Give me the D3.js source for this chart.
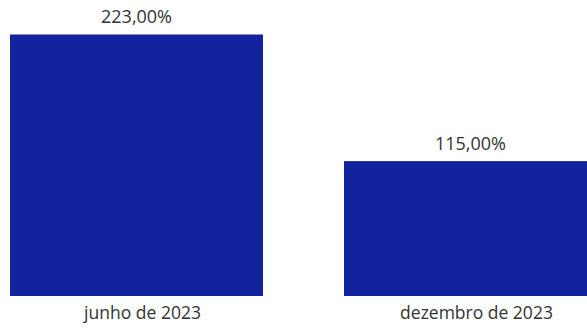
<!DOCTYPE html>
<html>
<head>
<meta charset="utf-8">
<script src="https://cdn.jsdelivr.net/npm/d3@7"></script>
<style>
  html, body { margin: 0; padding: 0; background: #fff; overflow: hidden; }
  svg { display: block; font-family: "Segoe UI", "Open Sans", sans-serif; }
</style>
</head>
<body>
<svg id="chart"></svg>
<script>
const width = 587;
const height = 328;

// Données
const categories = ["junho de 2023", "dezembro de 2023"];
const values = [223, 115];
const valueLabels = ["223,00%", "115,00%"];

const svg = d3.select("#chart")
  .attr("width", width)
  .attr("height", height);

// Échelles
const x = d3.scaleBand()
  .domain(categories)
  .range([10, 597])
  .paddingInner(0.2425)
  .paddingOuter(0);

const y = d3.scaleLinear()
  .domain([0, d3.max(values)])
  .range([296, 34.5]);

const data = categories.map((c, i) => ({ cat: c, value: values[i], label: valueLabels[i] }));

// Barres
svg.selectAll("rect.bar")
  .data(data)
  .enter()
  .append("rect")
  .attr("class", "bar")
  .attr("x", d => x(d.cat))
  .attr("y", d => y(d.value))
  .attr("width", x.bandwidth())
  .attr("height", d => y(0) - y(d.value))
  .attr("fill", "#12239e");

// Étiquettes de valeur
svg.selectAll("text.val")
  .data(data)
  .enter()
  .append("text")
  .attr("class", "val")
  .attr("x", d => x(d.cat) + x.bandwidth() / 2)
  .attr("y", d => y(d.value) - 11.5)
  .attr("text-anchor", "middle")
  .attr("fill", "#333")
  .style("font-size", "18px")
  .text(d => d.label);

// Axe des catégories (sans ligne)
const xAxis = svg.append("g")
  .attr("transform", `translate(6,${y(0)})`)
  .call(d3.axisBottom(x).tickSize(0).tickPadding(10.5));

xAxis.select(".domain").remove();
xAxis.selectAll("text")
  .attr("fill", "#333")
  .style("font-family", "\"Segoe UI\", \"Open Sans\", sans-serif")
  .style("font-size", "17.5px");
</script>
</body>
</html>
